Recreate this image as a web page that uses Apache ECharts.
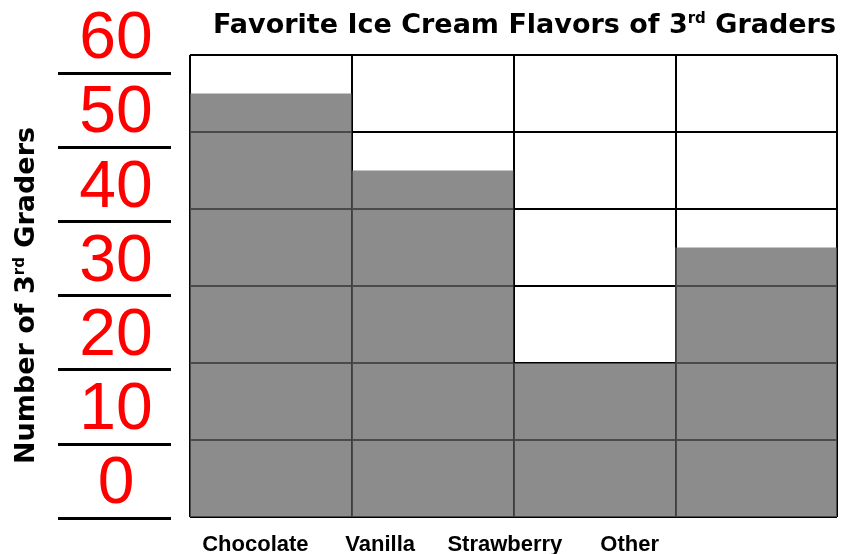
<!DOCTYPE html>
<html>
<head>
<meta charset="utf-8">
<script src="https://cdn.jsdelivr.net/npm/echarts@6/dist/echarts.min.js"></script>
<style>
html, body { margin: 0; padding: 0; background: #fff; }
.box { width: 844px; height: 554px; }
</style>
</head>
<body>
<div class="box"></div>
<script>
const flavors = ['Chocolate', 'Vanilla', 'Strawberry', 'Other'];
const graders = [55, 45, 20, 35];
const handTicks = [0, 10, 20, 30, 40, 50, 60];

const chartDom = document.getElementsByClassName('box')[0];
const myChart = echarts.init(chartDom);

const tMin = handTicks[0], tMax = handTicks[handTicks.length - 1];
const tStep = handTicks[1] - handTicks[0];
const boldFont = 'DejaVu Sans';

const option = {
    animation: false,
    title: {
        left: 208,
        top: 7,
        text: '{t|Favorite Ice Cream Flavors of 3}{s|rd}{t| Graders}',
        textStyle: {
            rich: {
                t: { fontFamily: boldFont, fontWeight: 'bold', fontSize: 27, color: '#000' },
                s: { fontFamily: boldFont, fontWeight: 'bold', fontSize: 15, color: '#000', verticalAlign: 'top' }
            }
        }
    },
    grid: [
        // main box
        { left: 190, right: 7, top: 55, bottom: 37 },
        // hand drawn scale on the left
        { left: 58, width: 113, top: 73, bottom: 36 },
        // flavor labels under the box
        { left: 193, width: 499, top: 524, height: 1 }
    ],
    xAxis: [
        {
            gridIndex: 0, type: 'category', data: flavors,
            axisLine: { show: false }, axisTick: { show: false }, axisLabel: { show: false },
            splitLine: { show: true, interval: 0, lineStyle: { color: '#000', width: 2 } }
        },
        { gridIndex: 1, type: 'value', show: false },
        {
            gridIndex: 2, type: 'category', data: flavors,
            axisLine: { show: false }, axisTick: { show: false },
            axisLabel: { interval: 0, margin: 10, color: '#000', fontFamily: 'Liberation Sans', fontWeight: 'bold', fontSize: 22 }
        }
    ],
    yAxis: [
        {
            gridIndex: 0, type: 'value', min: tMin, max: tMax, interval: tStep,
            axisLine: { show: false }, axisTick: { show: false }, axisLabel: { show: false },
            splitLine: { show: true, lineStyle: { color: '#000', width: 2 } }
        },
        {
            gridIndex: 1, type: 'value', min: tMin, max: tMax, interval: tStep,
            axisLine: { show: false }, axisTick: { show: false },
            splitLine: { show: true, lineStyle: { color: '#000', width: 3 } },
            axisLabel: {
                inside: true, margin: 58, align: 'center', verticalAlign: 'bottom',
                color: '#ff0000', fontFamily: 'Liberation Sans', fontSize: 66, lineHeight: 66
            },
            name: '{t|Number of 3}{s|rd}{t| Graders}',
            nameLocation: 'middle',
            nameRotate: 90,
            nameGap: 18,
            nameTextStyle: {
                rich: {
                    t: { fontFamily: boldFont, fontWeight: 'bold', fontSize: 27, color: '#000' },
                    s: { fontFamily: boldFont, fontWeight: 'bold', fontSize: 15, color: '#000', verticalAlign: 'top' }
                }
            }
        },
        { gridIndex: 2, type: 'value', show: false }
    ],
    series: [
        {
            type: 'bar',
            xAxisIndex: 0,
            yAxisIndex: 0,
            data: graders,
            barWidth: '100%',
            itemStyle: { color: 'rgba(100,100,100,0.74)' }
        }
    ]
};

myChart.setOption(option);
</script>
</body>
</html>
